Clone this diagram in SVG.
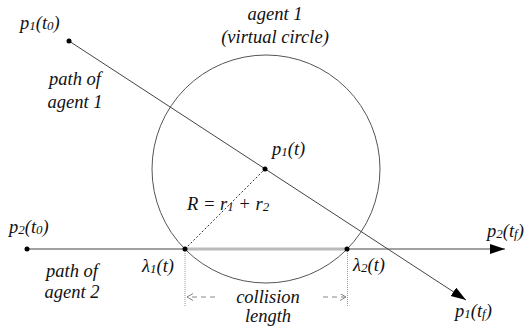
<svg xmlns="http://www.w3.org/2000/svg" width="531" height="335" viewBox="0 0 531 335">
<defs>
<marker id="arr" markerUnits="userSpaceOnUse" markerWidth="16" markerHeight="12" refX="15" refY="5" orient="auto"><path d="M0,0 L15,5 L0,10 z" fill="#000"/></marker>
<marker id="chev" markerUnits="userSpaceOnUse" markerWidth="8" markerHeight="8" refX="6" refY="3.5" orient="auto"><path d="M0,0 L6,3.5 L0,7" fill="none" stroke="#888" stroke-width="1"/></marker>
</defs>
<style>
text{font-family:'Liberation Serif','DejaVu Serif',serif;font-style:italic;font-size:18.5px;fill:#111}
.sub{font-size:13px}
.path{stroke:#444;stroke-width:1;fill:none}
.dot{fill:#000}
</style>
<rect width="531" height="335" fill="#fff"/>
<g id="circle-agent1">
<circle cx="266" cy="169" r="114" fill="none" stroke="#555" stroke-width="1"/>
<text x="275" y="20" text-anchor="middle">agent 1</text>
<text x="275" y="43" text-anchor="middle">(virtual circle)</text>
</g>
<g id="connectors">
<line class="path" x1="69" y1="41" x2="466" y2="300" marker-end="url(#arr)"/>
<line class="path" x1="27" y1="249" x2="505" y2="249" marker-end="url(#arr)"/>
<line x1="185" y1="249" x2="347" y2="249" stroke="#bbb" stroke-width="3"/>
<line x1="185" y1="249" x2="265" y2="169" stroke="#333" stroke-width="1" stroke-dasharray="2,2"/>
<line x1="185" y1="251" x2="185" y2="306" stroke="#999" stroke-width="1" stroke-dasharray="1,1"/>
<line x1="347.5" y1="251" x2="347.5" y2="306" stroke="#999" stroke-width="1" stroke-dasharray="1,1"/>
<line x1="215" y1="297" x2="187" y2="297" stroke="#888" stroke-width="1" stroke-dasharray="5,4" marker-end="url(#chev)"/>
<line x1="323" y1="297" x2="346" y2="297" stroke="#888" stroke-width="1" stroke-dasharray="5,4" marker-end="url(#chev)"/>
</g>
<g id="p1-t0">
<circle class="dot" cx="69" cy="41" r="2.5"/>
<text x="20" y="29">p<tspan class="sub" dy="1">1</tspan><tspan dy="-1">(t</tspan><tspan class="sub" dy="1">0</tspan><tspan dy="-1">)</tspan></text>
</g>
<g id="path-agent1">
<text x="75" y="85" text-anchor="middle">path of</text>
<text x="75" y="108" text-anchor="middle">agent 1</text>
</g>
<g id="p1-t">
<circle class="dot" cx="265" cy="169" r="2.5"/>
<text x="272" y="155">p<tspan class="sub" dy="1">1</tspan><tspan dy="-1">(t)</tspan></text>
</g>
<g id="radius">
<text x="187" y="210">R = r<tspan class="sub" dy="1">1</tspan><tspan dy="-1"> + r</tspan><tspan class="sub" dy="1">2</tspan></text>
</g>
<g id="p2-t0">
<circle class="dot" cx="27" cy="249" r="2.5"/>
<text x="9" y="233">p<tspan class="sub" dy="1">2</tspan><tspan dy="-1">(t</tspan><tspan class="sub" dy="1">0</tspan><tspan dy="-1">)</tspan></text>
</g>
<g id="p2-tf">
<text x="487" y="237">p<tspan class="sub" dy="1">2</tspan><tspan dy="-1">(t</tspan><tspan class="sub" dy="1">f</tspan><tspan dy="-1">)</tspan></text>
</g>
<g id="lambda1">
<circle class="dot" cx="185" cy="249" r="2.5"/>
<text x="142" y="272">λ<tspan class="sub" dy="1">1</tspan><tspan dy="-1">(t)</tspan></text>
</g>
<g id="lambda2">
<circle class="dot" cx="347" cy="249" r="2.5"/>
<text x="353" y="271">λ<tspan class="sub" dy="1">2</tspan><tspan dy="-1">(t)</tspan></text>
</g>
<g id="path-agent2">
<text x="72" y="277" text-anchor="middle">path of</text>
<text x="72" y="298" text-anchor="middle">agent 2</text>
</g>
<g id="collision">
<text x="268" y="303" text-anchor="middle">collision</text>
<text x="268" y="322" text-anchor="middle">length</text>
</g>
<g id="p1-tf">
<text x="455" y="317">p<tspan class="sub" dy="1">1</tspan><tspan dy="-1">(t</tspan><tspan class="sub" dy="1">f</tspan><tspan dy="-1">)</tspan></text>
</g>
</svg>
